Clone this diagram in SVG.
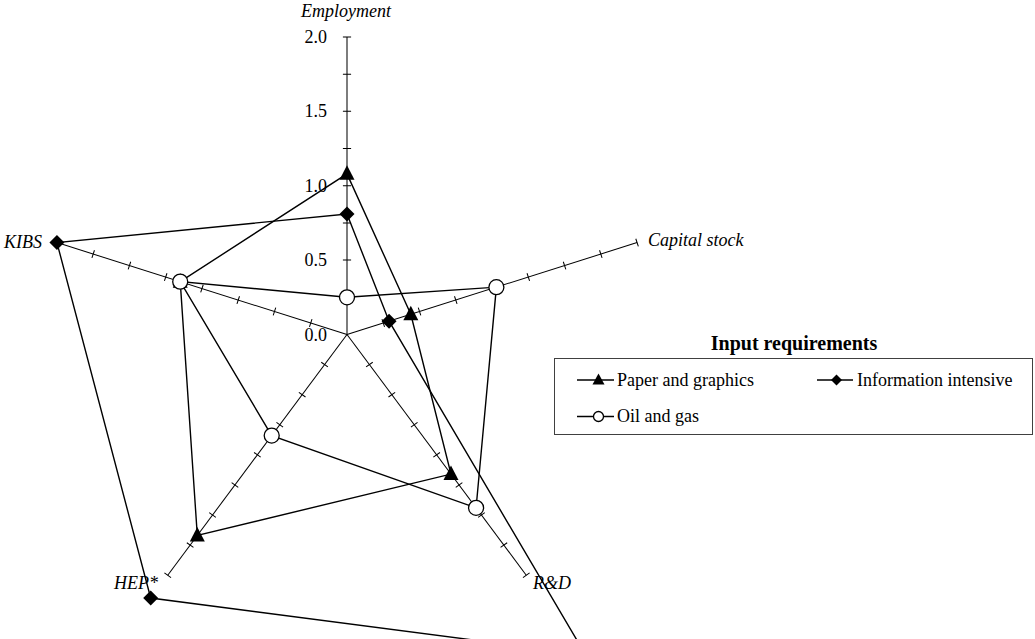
<svg xmlns="http://www.w3.org/2000/svg" xmlns:xlink="http://www.w3.org/1999/xlink" width="1035" height="639" viewBox="0 0 1035 639">
  <style>
    .axis { stroke: #000; stroke-width: 1; fill: none; }
    .series { stroke: #000; stroke-width: 1.4; fill: none; stroke-linejoin: miter; }
    .lbl { font-family: "Liberation Serif", "Times New Roman", serif; font-size: 18px; fill: #000; }
    .axlbl { font-style: italic; }
    .title { font-weight: bold; font-size: 20px; }
    .tri, .dia { fill: #000; stroke: none; }
    .circ { fill: #fff; stroke: #000; stroke-width: 1.3; }
    .legbox { fill: #fff; stroke: #404040; stroke-width: 1; }
  </style>
  <defs>
    <!-- one radial axis: 0..2.0 with a tick every 0.25 -->
    <g id="axis">
      <line class="axis" x1="0" y1="0" x2="297.5" y2="0"/>
      <path class="axis" d="M37.19,-4V4 M74.38,-4V4 M111.56,-4V4 M148.75,-4V4 M185.94,-4V4 M223.13,-4V4 M260.31,-4V4 M297.5,-4V4"/>
    </g>
    <path id="m-tri" class="tri" d="M0,-8.5 L7.5,6 L-7.5,6 Z"/>
    <path id="m-dia" class="dia" d="M0,-7.5 L7.5,0 L0,7.5 L-7.5,0 Z"/>
    <circle id="m-circ" class="circ" r="7.5"/>
    <path id="l-tri" class="tri" d="M0,-6.5 L6,4.5 L-6,4.5 Z"/>
    <path id="l-dia" class="dia" d="M0,-5.5 L5.5,0 L0,5.5 L-5.5,0 Z"/>
    <circle id="l-circ" class="circ" r="5" stroke-width="1.1"/>
  </defs>

  <!-- radar axes -->
  <g id="axes">
    <use xlink:href="#axis" transform="translate(347 334.5) scale(1.0252 1) rotate(-90)"/>
    <use xlink:href="#axis" transform="translate(347 334.5) scale(1.0252 1) rotate(-18)"/>
    <use xlink:href="#axis" transform="translate(347 334.5) scale(1.0252 1) rotate(54)"/>
    <use xlink:href="#axis" transform="translate(347 334.5) scale(1.0252 1) rotate(126)"/>
    <use xlink:href="#axis" transform="translate(347 334.5) scale(1.0252 1) rotate(198)"/>
  </g>

  <!-- scale values on the vertical axis -->
  <g id="scale" class="lbl" text-anchor="end">
    <text x="327" y="43">2.0</text>
    <text x="327" y="117.4">1.5</text>
    <text x="327" y="191.8">1.0</text>
    <text x="327" y="266.1">0.5</text>
    <text x="327" y="340.5">0.0</text>
  </g>

  <!-- axis names -->
  <g id="axis-labels" class="lbl axlbl">
    <text x="346" y="17" text-anchor="middle">Employment</text>
    <text x="648" y="246">Capital stock</text>
    <text x="42" y="248" text-anchor="end">KIBS</text>
    <text x="158" y="589" text-anchor="end">HEP*</text>
    <text x="533" y="589">R&amp;D</text>
  </g>

  <!-- series polygons -->
  <g id="connectors">
    <polygon id="paper-line" class="series" points="347,173.85 410.81,314.27 450.98,474.09 197.3,535.47 180.22,281.63"/>
    <polygon id="info-line" class="series" points="347,214.01 389.06,321.17 585.44,654.6 150.69,598.04 56.94,242.56"/>
    <polygon id="oil-line" class="series" points="347,297.31 496.38,287.15 476.08,507.79 271.7,435.59 180.22,281.63"/>
  </g>

  <!-- data points -->
  <g id="paper-points">
    <use xlink:href="#m-tri" x="347" y="173.85"/>
    <use xlink:href="#m-tri" x="410.81" y="314.27"/>
    <use xlink:href="#m-tri" x="450.98" y="474.09"/>
    <use xlink:href="#m-tri" x="197.3" y="535.47"/>
    <use xlink:href="#m-tri" x="180.22" y="281.63"/>
  </g>
  <g id="info-points">
    <use xlink:href="#m-dia" x="347" y="214.01"/>
    <use xlink:href="#m-dia" x="389.06" y="321.17"/>
    <use xlink:href="#m-dia" x="150.69" y="598.04"/>
    <use xlink:href="#m-dia" x="56.94" y="242.56"/>
  </g>
  <g id="oil-points">
    <use xlink:href="#m-circ" x="347" y="297.31"/>
    <use xlink:href="#m-circ" x="496.38" y="287.15"/>
    <use xlink:href="#m-circ" x="476.08" y="507.79"/>
    <use xlink:href="#m-circ" x="271.7" y="435.59"/>
    <use xlink:href="#m-circ" x="180.22" y="281.63"/>
  </g>

  <!-- legend -->
  <g id="legend">
    <text class="lbl title" x="794" y="350" text-anchor="middle">Input requirements</text>
    <rect class="legbox" x="554.5" y="358.5" width="478" height="76"/>
    <g id="legend-paper">
      <line class="series" x1="577" y1="380" x2="614" y2="380" stroke-width="1.2"/>
      <use xlink:href="#l-tri" x="598.5" y="380"/>
      <text class="lbl" x="617" y="386">Paper and graphics</text>
    </g>
    <g id="legend-info">
      <line class="series" x1="817" y1="380" x2="853" y2="380" stroke-width="1.2"/>
      <use xlink:href="#l-dia" x="836.5" y="380"/>
      <text class="lbl" x="857" y="386">Information intensive</text>
    </g>
    <g id="legend-oil">
      <line class="series" x1="577" y1="416.5" x2="614" y2="416.5" stroke-width="1.2"/>
      <use xlink:href="#l-circ" x="598.5" y="416.5"/>
      <text class="lbl" x="617" y="422">Oil and gas</text>
    </g>
  </g>
</svg>
